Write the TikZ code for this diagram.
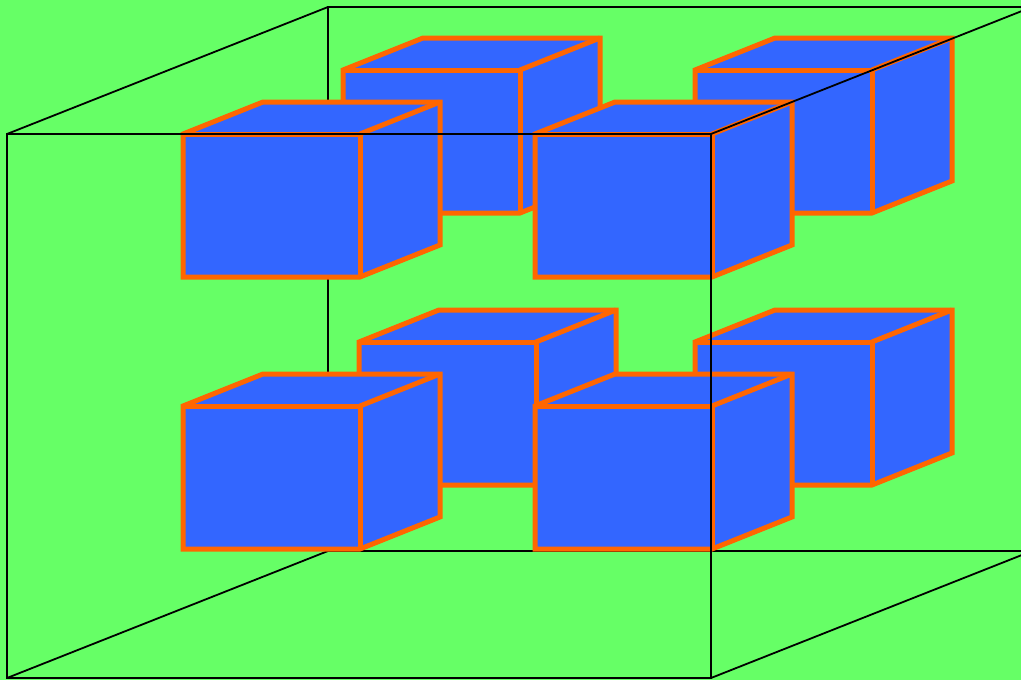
\documentclass[tikz,border=0pt]{standalone}
\usepackage{tikz}
\definecolor{fondoverde}{RGB}{102,255,102}
\definecolor{cuboazul}{RGB}{51,102,255}
\definecolor{bordenaranja}{RGB}{255,102,0}

% cubito: esquina superior izquierda de la cara frontal
\newcommand{\cubito}[2]{%
  \filldraw[cubo] (#1,#2) -- ++(80,-32) -- ++(177,0) -- ++(0,143)
    -- ++(-80,32) -- ++(-177,0) -- cycle;
  \draw[cubo, fill=none] (#1,#2) -- ++(177,0) -- ++(0,143);
  \draw[cubo, fill=none] (#1+177,#2) -- ++(80,-32);
}

\begin{document}
\begin{tikzpicture}[x=1pt, y=-1pt,
    cubo/.style={fill=cuboazul, draw=bordenaranja, line width=5pt},
    arista/.style={black, line width=1.8pt}]
            % Fondo
            \fill[fondoverde] (0,0) rectangle (1021,680);
            \useasboundingbox (0,0) rectangle (1021,680);
            \clip (0,0) rectangle (1021,680);

            % Esquinas del cubo grande
            \coordinate (f1) at (7,134);  \coordinate (f2) at (711,134);
            \coordinate (f3) at (711,678); \coordinate (f4) at (7,678);
            \coordinate (b1) at (328,7);  \coordinate (b2) at (1032,7);
            \coordinate (b3) at (1032,551); \coordinate (b4) at (328,551);

            % Aristas de atras
            \draw[arista] (b1) -- (b2) -- (b3) -- (b4) -- cycle;
            \draw[arista] (f1) -- (b1);
            \draw[arista] (f4) -- (b4);

            % Cubitos de atras
            \cubito{343}{70}
            \cubito{695}{70}
            \cubito{359}{342}
            \cubito{695}{342}

            % Cubitos de adelante
            \cubito{183}{134}
            \cubito{535}{134}
            \cubito{183}{406}
            \cubito{535}{406}

            % Aristas de adelante
            \draw[arista] (f1) -- (f2) -- (f3) -- (f4) -- cycle;
            \draw[arista] (f2) -- (b2);
            \draw[arista] (f3) -- (b3);
\end{tikzpicture}
\end{document}
